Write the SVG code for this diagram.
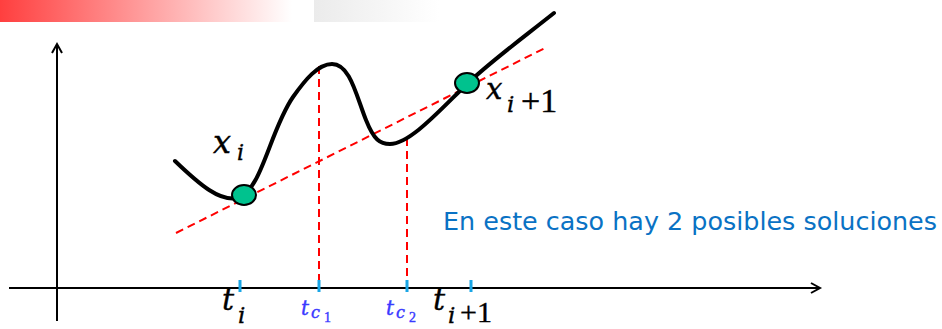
<svg xmlns="http://www.w3.org/2000/svg" width="942" height="329" viewBox="0 0 942 329">
<defs>
<linearGradient id="gr" x1="0" x2="1" y1="0" y2="0"><stop offset="0" stop-color="#ff3f3f"/><stop offset="1" stop-color="#ffffff"/></linearGradient>
<linearGradient id="gg" x1="0" x2="1" y1="0" y2="0"><stop offset="0" stop-color="#ebebeb"/><stop offset="1" stop-color="#ffffff"/></linearGradient>
<style>
.ax{stroke:#000;stroke-width:2;fill:none}
.dash{stroke:#ff0000;stroke-width:2;stroke-dasharray:8 5;fill:none}
.tick{stroke:#1aa6e6;stroke-width:3}
.curve{stroke:#000;stroke-width:4;fill:none;stroke-linecap:round}
.pt{fill:#00c28e;stroke:#000;stroke-width:2}
.m{font-family:"DejaVu Serif",serif;font-style:italic;fill:#000;stroke:#000;stroke-width:0.4}
.mu{font-family:"Liberation Serif",serif;fill:#000;stroke:#000;stroke-width:0.4}
.b{fill:#3a3aff;stroke:#3a3aff}
.note{font-family:"DejaVu Sans",Verdana,sans-serif;font-size:25px;fill:#0a72c4}
</style>
</defs>
<rect x="0" y="0" width="292" height="22" fill="url(#gr)"/>
<rect x="314" y="0" width="125" height="22" fill="url(#gg)"/>
<g id="axes">
<path class="ax" d="M57,321 V44 M52,53 L57,44 L62,53"/>
<path class="ax" d="M9,288 H820 M811,283 L820,288 L811,293"/>
</g>
<g id="connectors">
<path class="dash" d="M176,233 L545,48"/>
<path class="dash" d="M319,66 V288"/>
<path class="dash" d="M407,138 V288"/>
</g>
<g id="ticks">
<path class="tick" d="M240,280 V292 M319,280 V292 M407,280 V292 M471,280 V292"/>
</g>
<g id="curve">
<path class="curve" d="M175,161 C200,185 220,202 238,198 C262,190 270,130 293,97 C305,80 318,64 332,64 C350,64 356,95 366,120 C374,140 380,144 390,144 C410,144 440,110 467,84 C490,62 520,40 554,13"/>
</g>
<g id="xi">
<ellipse class="pt" cx="244" cy="195" rx="12" ry="10"/>
<text class="m" x="213" y="153" font-size="32">x</text>
<text class="m" x="237" y="160" font-size="22">i</text>
</g>
<g id="xi1">
<ellipse class="pt" cx="467" cy="83" rx="12" ry="10"/>
<text class="m" x="486" y="99" font-size="29">x</text>
<text class="m" x="507" y="112" font-size="23">i</text>
<text class="mu" x="521" y="112" font-size="34">+1</text>
</g>
<g id="labels">
<text class="m" x="222" y="310" font-size="30">t</text>
<text class="m" x="238" y="323" font-size="23">i</text>
<text class="m b" x="301" y="315" font-size="20">t</text>
<text class="m b" x="311" y="318" font-size="16">c</text>
<text class="mu b" x="324" y="322" font-size="14">1</text>
<text class="m b" x="386" y="315" font-size="20">t</text>
<text class="m b" x="396" y="318" font-size="16">c</text>
<text class="mu b" x="409" y="322" font-size="14">2</text>
<text class="m" x="433" y="310" font-size="30">t</text>
<text class="m" x="448" y="323" font-size="23">i</text>
<text class="mu" x="460" y="322" font-size="30">+1</text>
</g>
<text class="note" x="443" y="230" textLength="494" lengthAdjust="spacingAndGlyphs">En este caso hay 2 posibles soluciones</text>
</svg>
